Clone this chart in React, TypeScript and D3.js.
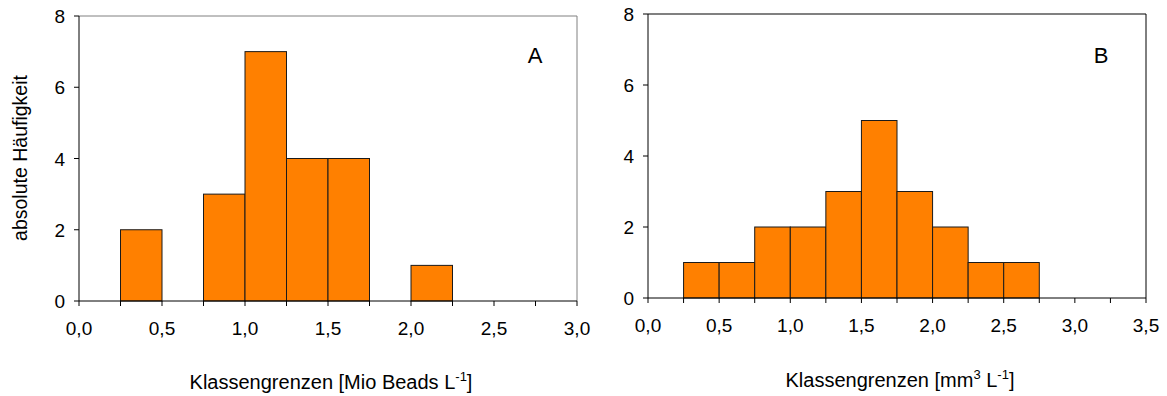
import React from "react";
import * as d3 from "d3";

const binsA = [0.25, 0.5, 0.75, 1.0, 1.25, 1.5, 1.75, 2.0];
const countsA = [2, 0, 3, 7, 4, 4, 0, 1];
const binsB = [0.25, 0.5, 0.75, 1.0, 1.25, 1.5, 1.75, 2.0, 2.25, 2.5];
const countsB = [1, 1, 2, 2, 3, 5, 3, 2, 1, 1];
const binWidth = 0.25;
const yTicks = [0, 2, 4, 6, 8];
const xTicksA = [0, 0.5, 1.0, 1.5, 2.0, 2.5, 3.0];
const xTicksB = [0, 0.5, 1.0, 1.5, 2.0, 2.5, 3.0, 3.5];

const FONT = "'Liberation Sans', Arial, sans-serif";
const fmt = (v: number) => v.toFixed(1).replace(".", ",");

type PanelProps = {
  left: number; right: number; top: number; bottom: number;
  xMax: number; xTicks: number[]; bins: number[]; counts: number[];
  letter: string; letterX: number; letterY: number;
  title: React.ReactNode; titleY: number;
  topStroke: number; rightColor: string;
};

function Panel(p: PanelProps) {
  const x = d3.scaleLinear().domain([0, p.xMax]).range([p.left, p.right]);
  const y = d3.scaleLinear().domain([0, 8]).range([p.bottom, p.top]);
  const minor = d3.range(0, p.xMax + 0.001, 0.25);
  return (
    <g>
      {p.bins.map((b, i) =>
        p.counts[i] > 0 ? (
          <rect key={i} x={x(b)} y={y(p.counts[i])} width={x(b + binWidth) - x(b)}
            height={y(0) - y(p.counts[i])} fill="#FF8000" stroke="#1a1a1a" strokeWidth={1} />
        ) : null
      )}
      <line x1={p.left} x2={p.right} y1={p.top} y2={p.top} stroke="#808080" strokeWidth={p.topStroke} />
      <line x1={p.right} x2={p.right} y1={p.top} y2={p.bottom} stroke={p.rightColor} strokeWidth={1} />
      <line x1={p.left} x2={p.left} y1={p.top} y2={p.bottom} stroke="#000" strokeWidth={1} />
      <line x1={p.left} x2={p.right} y1={p.bottom} y2={p.bottom} stroke="#000" strokeWidth={1} />
      {minor.map((t, i) => (
        <line key={"m" + i} x1={x(t)} x2={x(t)} y1={p.bottom} y2={p.bottom + 5} stroke="#000" />
      ))}
      {p.xTicks.map((t, i) => (
        <text key={"x" + i} x={x(t)} y={p.bottom + 34} textAnchor="middle" fontSize={19} fontFamily={FONT}>
          {fmt(t)}
        </text>
      ))}
      {yTicks.map((t, i) => (
        <g key={"y" + i}>
          <line x1={p.left - 5} x2={p.left} y1={y(t)} y2={y(t)} stroke="#000" />
          <text x={p.left - 14} y={y(t) + 7} textAnchor="end" fontSize={19} fontFamily={FONT}>{t}</text>
        </g>
      ))}
      <text x={p.letterX} y={p.letterY} textAnchor="middle" fontSize={22} fontFamily={FONT}>{p.letter}</text>
      <text x={(p.left + p.right) / 2 + 3} y={p.titleY} textAnchor="middle" fontSize={20} fontFamily={FONT}>{p.title}</text>
    </g>
  );
}

export default function App() {
  return (
    <svg width={1167} height={396} style={{ position: "absolute", left: 0, top: 0 }}>
      <rect width={1167} height={396} fill="#fff" />
      <Panel left={79} right={577} top={16} bottom={301} xMax={3.0} xTicks={xTicksA}
        bins={binsA} counts={countsA} letter="A" letterX={535} letterY={63}
        title={<>Klassengrenzen [Mio Beads L<tspan dy={-8} fontSize={13}>-1</tspan><tspan dy={8}>]</tspan></>}
        titleY={389} topStroke={1} rightColor="#808080" />
      <Panel left={648} right={1146} top={14} bottom={298} xMax={3.5} xTicks={xTicksB}
        bins={binsB} counts={countsB} letter="B" letterX={1101} letterY={63}
        title={<>Klassengrenzen [mm<tspan dy={-8} fontSize={13}>3</tspan><tspan dy={8}> L</tspan><tspan dy={-8} fontSize={13}>-1</tspan><tspan dy={8}>]</tspan></>}
        titleY={387} topStroke={2} rightColor="#000" />
      <text transform="translate(27,158) rotate(-90)" textAnchor="middle" fontSize={19.5} fontFamily={FONT}>
        absolute Häufigkeit
      </text>
    </svg>
  );
}
